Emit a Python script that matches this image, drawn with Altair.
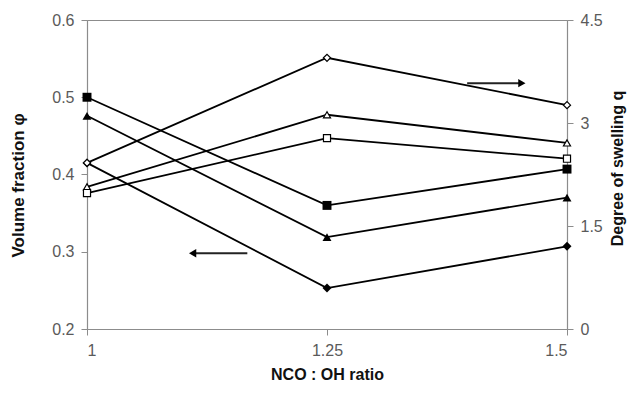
import altair as alt
import pandas as pd

# NCO:OH ratio
x_vals = [1.0, 1.25, 1.5]

# Volume fraction phi (left axis, filled markers)
phi_square = [0.500, 0.360, 0.407]
phi_triangle = [0.476, 0.319, 0.370]
phi_diamond = [0.415, 0.253, 0.307]

# Degree of swelling q (right axis, open markers)
q_diamond = [2.42, 3.95, 3.26]
q_triangle = [2.07, 3.12, 2.71]
q_square = [1.98, 2.78, 2.48]

# arrows indicating which axis applies
arrow_left = {"x": 1.167, "x2": 1.110, "y": 0.298}
arrow_right = {"x": 1.396, "x2": 1.453, "y": 3.58}

left_rows = []
for name, shape, vals in [("phi_square", "square", phi_square),
                          ("phi_triangle", "triangle-up", phi_triangle),
                          ("phi_diamond", "diamond", phi_diamond)]:
    for xv, v in zip(x_vals, vals):
        left_rows.append({"series": name, "shape": shape, "x": xv, "v": v})
right_rows = []
for name, shape, vals in [("q_diamond", "diamond", q_diamond),
                          ("q_triangle", "triangle-up", q_triangle),
                          ("q_square", "square", q_square)]:
    for xv, v in zip(x_vals, vals):
        right_rows.append({"series": name, "shape": shape, "x": xv, "v": v})

left_df = pd.DataFrame(left_rows)
right_df = pd.DataFrame(right_rows)
arrow_l_df = pd.DataFrame([arrow_left])
arrow_r_df = pd.DataFrame([arrow_right])

FONT = "Liberation Sans"
GREY = "#8c8c8c"
LABEL = "#5a5a5a"

x_enc = alt.X("x:Q", scale=alt.Scale(domain=[1, 1.5], nice=False, zero=False),
              axis=alt.Axis(values=x_vals, labelExpr="datum.value == 1 ? '1' : datum.value == 1.5 ? '1.5' : '1.25'",
                            title="NCO : OH ratio", grid=False, tickSize=6,
                            labelPadding=7, labelFontSize=16,
                            titleFontSize=16, titleBaseline="alphabetic", titleY=50))

y_left_scale = alt.Scale(domain=[0.2, 0.6], nice=False, zero=False)
y_right_scale = alt.Scale(domain=[0, 4.5], nice=False, zero=False)

yl = alt.Y("v:Q", scale=y_left_scale,
           axis=alt.Axis(orient="left", values=[0.2, 0.3, 0.4, 0.5, 0.6], format=".1f",
                         title="Volume fraction φ", grid=False, tickSize=6, labelPadding=7,
                         titlePadding=24, labelFontSize=16, titleFontSize=17,
                         titleAngle=270, titleBaseline="bottom", titleY=165))
yr = alt.Y("v:Q", scale=y_right_scale,
           axis=alt.Axis(orient="right", values=[0, 1.5, 3, 4.5],
                         labelExpr="datum.value == 0 ? '0' : datum.value == 1.5 ? '1.5' : datum.value == 3 ? '3' : '4.5'",
                         title="Degree of swelling q", grid=False, tickSize=6, labelPadding=7,
                         titlePadding=7, labelFontSize=16, titleFontSize=16,
                         titleAngle=270, titleBaseline="top", titleY=148))

line_l = alt.Chart(left_df).mark_line(color="black", strokeWidth=1.8).encode(
    x=x_enc, y=yl, detail="series:N")
pts_l = alt.Chart(left_df).mark_point(filled=True, color="black", size=80, opacity=1).encode(
    x=x_enc, y=yl, shape=alt.Shape("shape:N", scale=None))
arr_l_shaft = alt.Chart(arrow_l_df).mark_rule(color="#222", strokeWidth=2).encode(
    x=alt.X("x:Q"), x2="x2:Q", y=alt.Y("y:Q"))
arr_l_head = alt.Chart(arrow_l_df).mark_point(shape="triangle-left", filled=True, color="black",
                                               size=70, opacity=1).encode(
    x=alt.X("x2:Q"), y=alt.Y("y:Q"))

line_r = alt.Chart(right_df).mark_line(color="black", strokeWidth=1.8).encode(
    x=x_enc, y=yr, detail="series:N")
pts_r = alt.Chart(right_df).mark_point(fill="white", stroke="black", strokeWidth=1.2,
                                       size=50, opacity=1, fillOpacity=1).encode(
    x=x_enc, y=yr, shape=alt.Shape("shape:N", scale=None))
arr_r_shaft = alt.Chart(arrow_r_df).mark_rule(color="#222", strokeWidth=2).encode(
    x=alt.X("x:Q"), x2="x2:Q", y=alt.Y("y:Q"))
arr_r_head = alt.Chart(arrow_r_df).mark_point(shape="triangle-right", filled=True, color="black",
                                               size=70, opacity=1).encode(
    x=alt.X("x2:Q"), y=alt.Y("y:Q"))

left = alt.layer(line_l, arr_l_shaft, arr_l_head, pts_l)
right = alt.layer(line_r, arr_r_shaft, arr_r_head, pts_r)

chart = alt.layer(left, right).resolve_scale(y="independent").properties(
    width=480, height=309,
    autosize=alt.AutoSizeParams(type="none"),
    padding={"left": 79, "top": 12, "right": 65, "bottom": 56},
).configure_view(stroke=GREY, strokeWidth=1).configure_axis(
    labelFont=FONT, titleFont=FONT, labelColor=LABEL, titleColor="#111",
    titleFontWeight="bold", domainColor=GREY, tickColor=GREY, domainWidth=1.2,
)

chart.save("out.html", embed_options={"renderer": "svg", "actions": False})
